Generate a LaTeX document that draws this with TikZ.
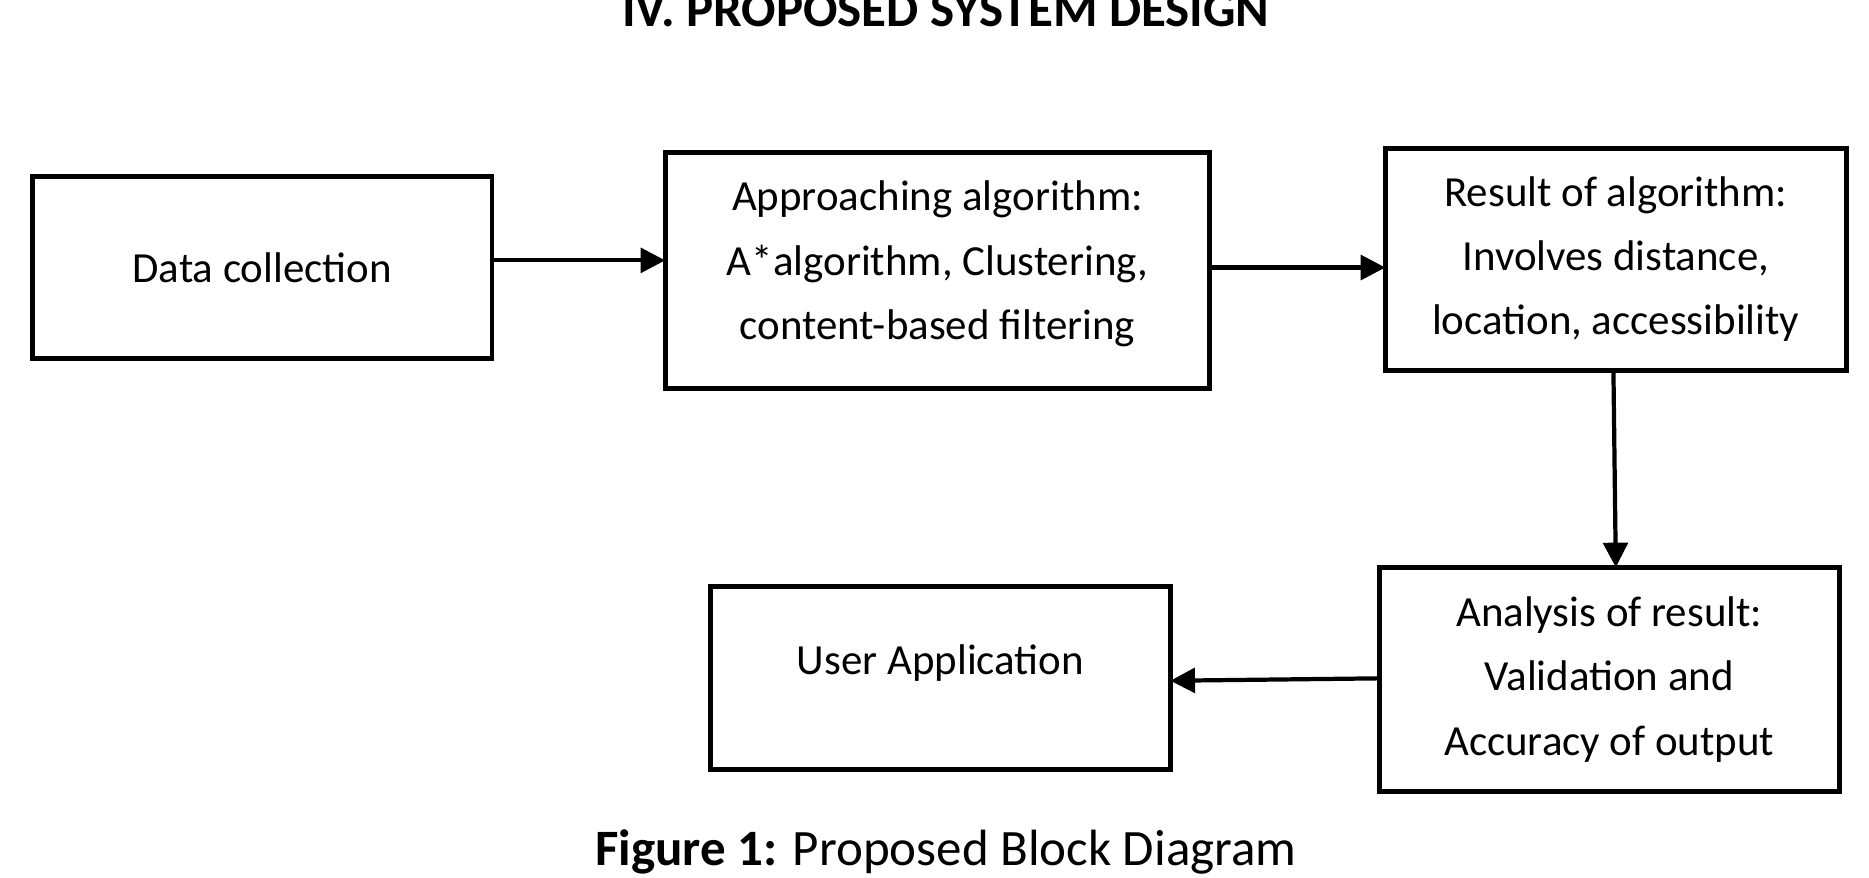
\documentclass[tikz,border=0pt]{standalone}
\usepackage{fontspec}
\setmainfont{Carlito}
\usetikzlibrary{arrows.meta}

\begin{document}
\begin{tikzpicture}[x=0.01194cm, y=-0.01194cm,
  every node/.style={font=\fontsize{12.2}{18.3}\selectfont, align=center},
  blockbox/.style={draw, line width=1.4pt},
  flowarrow/.style={-{Triangle[length=7pt,width=7pt]}, line width=1.2pt}]
\useasboundingbox (0,0) rectangle (1565,735);
\node[font=\fontsize{14.5}{18}\selectfont\bfseries] (title) at (792,8) {IV. PROPOSED SYSTEM DESIGN};
\draw[blockbox] (27,148) rectangle (412,300);
\node (datacoll) at (219.5,224) {Data collection};
\draw[blockbox] (557,128) rectangle (1013,325);
\node (approach) at (785,221) {Approaching algorithm:\\A*algorithm, Clustering,\\content-based filtering};
\draw[blockbox] (1160,124) rectangle (1546,310);
\node (result) at (1353,217) {Result of algorithm:\\Involves distance,\\location, accessibility};
\draw[blockbox] (1155,475) rectangle (1540,663);
\node (analysis) at (1347.5,569) {Analysis of result:\\Validation and\\Accuracy of output};
\draw[blockbox] (595,491) rectangle (980,644);
\node (userapp) at (787.5,555) {User Application};
\coordinate (a1) at (412,218);
\coordinate (a2) at (557,218);
\coordinate (b1) at (1013,224);
\coordinate (b2) at (1160,224);
\coordinate (c1) at (1351,310);
\coordinate (c2) at (1353,475);
\coordinate (d1) at (1155,568);
\coordinate (d2) at (980,570);
\draw[flowarrow] (a1) -- (a2);
\draw[flowarrow] (b1) -- (b2);
\draw[flowarrow] (c1) -- (c2);
\draw[flowarrow] (d1) -- (d2);
\node[font=\fontsize{14.5}{18}\selectfont] (caption) at (792,713) {\textbf{Figure 1:} Proposed Block Diagram};
\end{tikzpicture}
\end{document}
